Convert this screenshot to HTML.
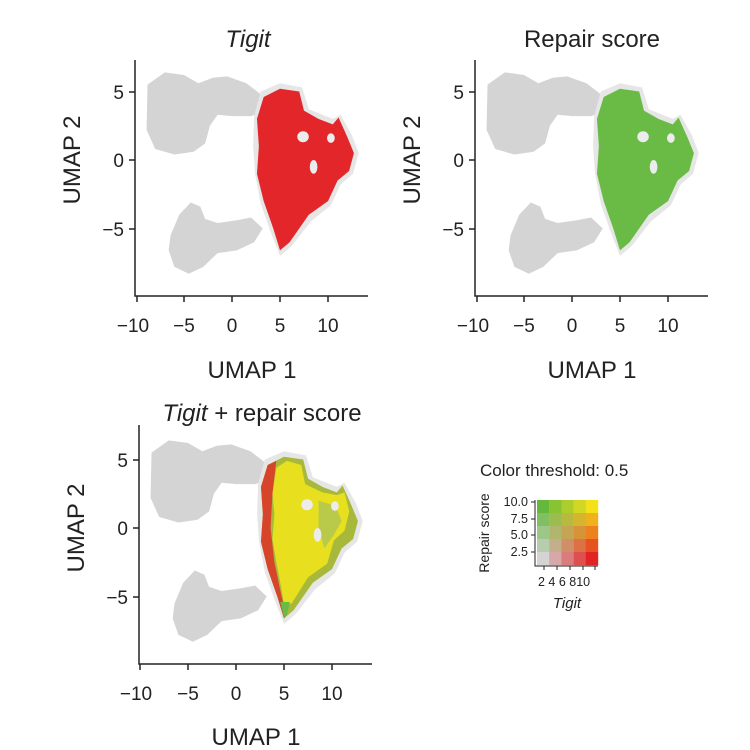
<!DOCTYPE html>
<html><head><meta charset="utf-8"><style>
html,body{margin:0;padding:0;background:#fff;}
svg{display:block;font-family:"Liberation Sans",sans-serif;}
</style></head><body>
<svg width="750" height="750" viewBox="0 0 750 750" xmlns="http://www.w3.org/2000/svg">
<defs>
<g id="gray">
<path d="M -8.8 5.5 L -7 6.4 L -5 6.2 L -3.5 5.6 L -2 6 L -0.5 6.1 L 1.5 5.6 L 3 4.8 L 3.2 3.5 L 2 3.2 L 0 3.2 L -1.5 3.3 L -2.3 2.5 L -2.8 1.2 L -4 0.6 L -6 0.4 L -8 0.8 L -8.9 2.2 Z" fill="#d4d4d4"/>
<path d="M -6.4 -5.5 L -5.5 -4 L -4.3 -3.1 L -3.3 -3.4 L -2.8 -4.3 L -1.5 -4.6 L 0.5 -4.4 L 2 -4.2 L 3.2 -5 L 2.3 -6 L 0.5 -6.6 L -1.5 -6.8 L -3 -7.8 L -4.5 -8.3 L -6 -7.8 L -6.6 -6.6 Z" fill="#d4d4d4"/>
<path d="M 2.3 3.2 L 3 5 L 5 5.6 L 7.3 5.3 L 8 3.7 L 10.5 3 L 11.3 3.3 L 12.5 1.8 L 13.2 0.5 L 12.6 -1 L 11.3 -1.8 L 10.3 -3.3 L 8.2 -4.5 L 6.2 -6.3 L 5 -7 L 4 -5.2 L 3 -3.2 L 2.4 -1 L 2.2 1 Z" fill="#e6e6e6"/>
</g>
<path id="core" d="M 2.6 3 L 3.3 4.6 L 5 5.2 L 7 5 L 7.5 3.6 L 9 3 L 10.5 2.6 L 11.1 3.1 L 12 1.7 L 12.7 0.5 L 12.2 -0.8 L 11 -1.5 L 10 -3 L 8 -4 L 6 -6 L 5 -6.6 L 4.3 -5 L 3.3 -3 L 2.6 -1 L 2.8 1 Z"/>
<g id="holes" fill="#ececec">
<ellipse cx="7.4" cy="1.7" rx="0.6" ry="0.4"/>
<ellipse cx="10.3" cy="1.6" rx="0.4" ry="0.35"/>
<ellipse cx="8.5" cy="-0.5" rx="0.4" ry="0.5"/>
</g>
</defs>

<g transform="translate(232,160) scale(9.6,-13.7)">
<use href="#gray"/>
<use href="#core" fill="#e3262a"/>
<use href="#holes"/>
</g>
<g transform="translate(572,160) scale(9.6,-13.7)">
<use href="#gray"/>
<use href="#core" fill="#69bb45"/>
<use href="#holes"/>
</g>
<g transform="translate(236,528) scale(9.6,-13.7)">
<use href="#gray"/>
<use href="#core" fill="#a8b83a"/>
<path d="M 2.6 3 L 3.3 4.6 L 4.2 4.9 L 3.8 2.5 L 3.6 0 L 4 -2.5 L 4.6 -4.5 L 5.2 -6.4 L 5 -6.6 L 4.3 -5 L 3.3 -3 L 2.6 -1 L 2.8 1 Z" fill="#d6452a"/>
<path d="M 3.8 2.5 L 4.2 4.4 L 5.3 4.9 L 6.8 4.6 L 7.2 3.2 L 9 2.6 L 10.5 2.4 L 11.3 2.6 L 11.8 1.2 L 11.3 -0.2 L 10.2 -0.9 L 9.5 -2.6 L 7.5 -3.6 L 5.8 -5.5 L 5 -5.6 L 4.7 -4.3 L 4.2 -2.5 L 3.8 -0.8 L 4 1 Z" fill="#e8e01e"/>
<path d="M 8.6 2 L 10.4 1.6 L 11 0.5 L 10.2 -0.5 L 9.2 -1.5 L 8.6 0 Z" fill="#b9c94a"/>
<path d="M 4.6 -5.4 L 5.6 -5.4 L 5.3 -6.4 L 5 -6.5 Z" fill="#69bb45"/>
<use href="#holes"/>
</g>

<g stroke="#222" stroke-width="1.5" fill="none">
<path d="M135 60 V296 H368"/>
<path d="M129 92 H135 M129 160 H135 M129 229 H135"/>
<path d="M137 296 V302 M184 296 V302 M232 296 V302 M280 296 V302 M328 296 V302"/>
<path d="M475 60 V296 H708"/>
<path d="M469 92 H475 M469 160 H475 M469 229 H475"/>
<path d="M477 296 V302 M524 296 V302 M572 296 V302 M620 296 V302 M668 296 V302"/>
<path d="M139 425 V664 H372"/>
<path d="M133 460 H139 M133 528 H139 M133 597 H139"/>
<path d="M140 664 V670 M188 664 V670 M236 664 V670 M284 664 V670 M332 664 V670"/>
</g>

<g font-size="19" fill="#222">
<g text-anchor="end">
<text x="124" y="99">5</text><text x="124" y="167">0</text><text x="124" y="236">−5</text>
<text x="464" y="99">5</text><text x="464" y="167">0</text><text x="464" y="236">−5</text>
<text x="128" y="467">5</text><text x="128" y="535">0</text><text x="128" y="604">−5</text>
</g>
<g text-anchor="middle">
<text x="133" y="332">−10</text><text x="184" y="332">−5</text><text x="232" y="332">0</text><text x="280" y="332">5</text><text x="328" y="332">10</text>
<text x="473" y="332">−10</text><text x="524" y="332">−5</text><text x="572" y="332">0</text><text x="620" y="332">5</text><text x="668" y="332">10</text>
<text x="136" y="700">−10</text><text x="188" y="700">−5</text><text x="236" y="700">0</text><text x="284" y="700">5</text><text x="332" y="700">10</text>
</g>
</g>

<g font-size="24" fill="#222" text-anchor="middle">
<text x="248" y="47" font-style="italic">Tigit</text>
<text x="592" y="47">Repair score</text>
<text x="262" y="421"><tspan font-style="italic">Tigit</tspan> + repair score</text>
<text x="252" y="378">UMAP 1</text>
<text x="592" y="378">UMAP 1</text>
<text x="256" y="745">UMAP 1</text>
<text transform="translate(80,160) rotate(-90)">UMAP 2</text>
<text transform="translate(420,160) rotate(-90)">UMAP 2</text>
<text transform="translate(84,528) rotate(-90)">UMAP 2</text>
</g>

<text x="480" y="476" font-size="17" fill="#222">Color threshold: 0.5</text>
<g>
<rect x="537" y="500" width="12.4" height="13.2" fill="rgb(100,185,60)"/>
<rect x="537" y="513" width="12.4" height="13.2" fill="rgb(128,192,98)"/>
<rect x="537" y="526" width="12.4" height="13.2" fill="rgb(156,199,136)"/>
<rect x="537" y="539" width="12.4" height="13.2" fill="rgb(184,205,174)"/>
<rect x="537" y="552" width="12.4" height="13.2" fill="rgb(212,212,212)"/>
<rect x="549.2" y="500" width="12.4" height="13.2" fill="rgb(136,195,51)"/>
<rect x="549.2" y="513" width="12.4" height="13.2" fill="rgb(156,188,80)"/>
<rect x="549.2" y="526" width="12.4" height="13.2" fill="rgb(176,182,110)"/>
<rect x="549.2" y="539" width="12.4" height="13.2" fill="rgb(195,175,139)"/>
<rect x="549.2" y="552" width="12.4" height="13.2" fill="rgb(215,168,168)"/>
<rect x="561.4" y="500" width="12.4" height="13.2" fill="rgb(172,205,43)"/>
<rect x="561.4" y="513" width="12.4" height="13.2" fill="rgb(184,185,63)"/>
<rect x="561.4" y="526" width="12.4" height="13.2" fill="rgb(195,165,84)"/>
<rect x="561.4" y="539" width="12.4" height="13.2" fill="rgb(207,144,104)"/>
<rect x="561.4" y="552" width="12.4" height="13.2" fill="rgb(218,124,124)"/>
<rect x="573.6" y="500" width="12.4" height="13.2" fill="rgb(209,215,34)"/>
<rect x="573.6" y="513" width="12.4" height="13.2" fill="rgb(212,181,45)"/>
<rect x="573.6" y="526" width="12.4" height="13.2" fill="rgb(215,147,56)"/>
<rect x="573.6" y="539" width="12.4" height="13.2" fill="rgb(219,113,68)"/>
<rect x="573.6" y="552" width="12.4" height="13.2" fill="rgb(222,79,79)"/>
<rect x="585.8" y="500" width="12.4" height="13.2" fill="rgb(245,225,25)"/>
<rect x="585.8" y="513" width="12.4" height="13.2" fill="rgb(240,178,28)"/>
<rect x="585.8" y="526" width="12.4" height="13.2" fill="rgb(235,130,30)"/>
<rect x="585.8" y="539" width="12.4" height="13.2" fill="rgb(230,83,33)"/>
<rect x="585.8" y="552" width="12.4" height="13.2" fill="rgb(225,35,35)"/>
</g>
<g stroke="#222" stroke-width="1" fill="none">
<path d="M535 500 V566 H598"/>
<path d="M531 502 H535 M531 519 H535 M531 535 H535 M531 552 H535"/>
<path d="M544 566 V570 M557 566 V570 M570 566 V570 M583 566 V570 M595 566 V570"/>
</g>
<g font-size="12.5" fill="#222">
<g text-anchor="end">
<text x="528" y="506">10.0</text><text x="528" y="523">7.5</text><text x="528" y="539">5.0</text><text x="528" y="556">2.5</text>
</g>
<text x="538" y="586">2 4 6 810</text>
<text x="567" y="608" font-size="15" font-style="italic" text-anchor="middle">Tigit</text>
<text transform="translate(489,533) rotate(-90)" font-size="14" text-anchor="middle">Repair score</text>
</g>
</svg>
</body></html>
